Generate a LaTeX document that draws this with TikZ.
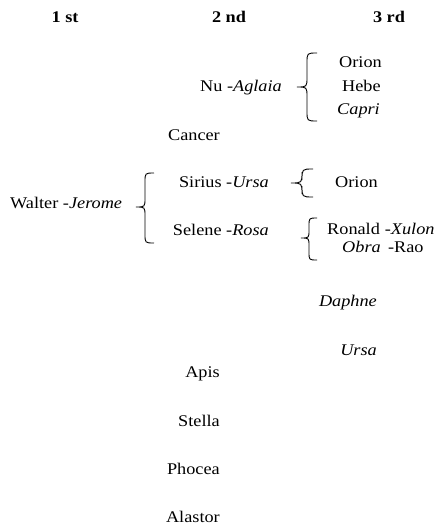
\documentclass[tikz,border=0pt]{standalone}
\usepackage{fontspec}
\setmainfont{Liberation Serif}[FakeStretch=1.12]
\begin{document}
\begin{tikzpicture}[x=1pt,y=-1pt,
  txt/.style={inner sep=0pt, font=\fontsize{16.3}{19}\selectfont},
  rtxt/.style={txt, anchor=base east},
  ltxt/.style={txt, anchor=base west},
  head/.style={txt, anchor=base, font=\fontsize{16.3}{19}\selectfont\bfseries},
  bracestroke/.style={draw=black, line width=0.9pt}]
\useasboundingbox (0,0) rectangle (438,528);

% tip x, end x, top y, tip y, bottom y
\newcommand{\drawcurly}[5]{%
  \pgfmathsetmacro{\sp}{(#1+#2)/2}%
  \pgfmathsetmacro{\rr}{(#2-#1)/2}%
  \draw[bracestroke] (#2,#3) .. controls (\sp,#3) .. (\sp,#3+\rr)
    -- (\sp,#4-\rr) .. controls (\sp,#4) .. (#1,#4)
    .. controls (\sp,#4) .. (\sp,#4+\rr)
    -- (\sp,#5-\rr) .. controls (\sp,#5) .. (#2,#5);}

% column headings
\node[head] (h1) at (65,22) {1 st};
\node[head] (h2) at (229,22) {2 nd};
\node[head] (h3) at (389,22) {3 rd};

% first group
\node[rtxt] (nu) at (282,91) {Nu -\textit{Aglaia}};
\drawcurly{297}{317}{53}{87}{121}
\node[ltxt] (orion1) at (339,67) {Orion};
\node[ltxt] (hebe) at (342,91) {Hebe};
\node[ltxt] (capri) at (337,114) {\textit{Capri}};

\node[rtxt] (cancer) at (220,140) {Cancer};

% Walter group
\node[ltxt] (walter) at (10,208) {Walter -\textit{Jerome}};
\drawcurly{136}{154}{173}{207}{243}
\node[rtxt] (sirius) at (269,187) {Sirius -\textit{Ursa}};
\node[rtxt] (selene) at (269,235) {Selene -\textit{Rosa}};

\drawcurly{291}{313}{169}{183}{197}
\node[ltxt] (orion2) at (335,187) {Orion};

\drawcurly{301}{317}{218}{238}{260}
\node[ltxt] (ronald) at (327,234) {Ronald\hspace{0.3em}-\textit{Xulon}};
\node[ltxt] (obra) at (342,252) {\textit{Obra}\hspace{0.45em}-Rao};

% loose entries
\node[rtxt] (daphne) at (377,306) {\textit{Daphne}};
\node[rtxt] (ursa) at (377,355) {\textit{Ursa}};
\node[rtxt] (apis) at (220,377) {Apis};
\node[rtxt] (stella) at (220,426) {Stella};
\node[rtxt] (phocea) at (220,474) {Phocea};
\node[rtxt] (alastor) at (220,522) {Alastor};
\end{tikzpicture}
\end{document}
